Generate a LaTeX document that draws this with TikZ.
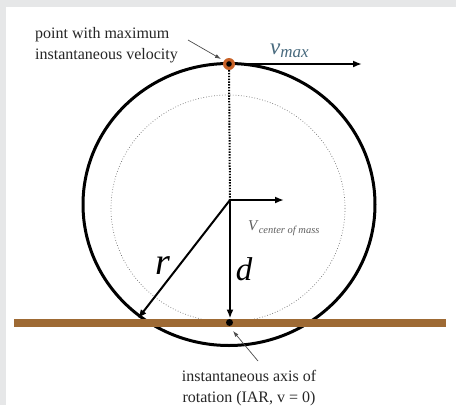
\documentclass[tikz,border=0pt]{standalone}
\usepackage{fontspec}
\setmainfont{Liberation Serif}
\usetikzlibrary{arrows.meta}
\usetikzlibrary{positioning}
\definecolor{groundbrown}{RGB}{158,106,52}
\definecolor{dotorange}{RGB}{200,98,40}
\definecolor{panelgray}{RGB}{230,231,232}
\definecolor{vmaxblue}{RGB}{72,106,126}
\definecolor{labelgray}{RGB}{95,95,95}

\begin{document}
\begin{tikzpicture}[
  x=1pt, y=-1pt,
  note/.style={
    inner sep=0pt,
    font=\fontsize{16}{21}\selectfont,
    text=black!85
  },
  vec/.style={-{Latex[length=9pt,width=7pt]}, line width=2pt},
  pointer/.style={-{Latex[length=6pt,width=4pt]}, line width=0.7pt, draw=black!70},
  wheel/.style={line width=3pt},
  trace/.style={dotted, draw=black!55, line width=0.7pt}
]
\fill[panelgray] (0,0) rectangle (456,405);
\fill[white] (6,7) rectangle (456,405);

\draw[wheel] (229,204.5) ellipse [x radius=146, y radius=141];
\draw[trace] (228,208.5) ellipse [x radius=117, y radius=113.5];
\fill[groundbrown] (14,319) rectangle (446,327);

\coordinate (cm) at (230,200);
\coordinate (vmaxend) at (362,64);
\coordinate (vcmend) at (284,200);
\coordinate (dend) at (230,318.5);
\coordinate (rend) at (138,318.5);

\node[circle, fill=dotorange, minimum size=12pt, inner sep=0pt] (top) at (229,64) {};
\fill[black] (top) circle (2.8);
\node[circle, fill=black, minimum size=7pt, inner sep=0pt] (iar) at (229.5,322.5) {};

\draw[line width=2pt, dash pattern=on 1.4pt off 1.4pt] (top.south) -- (cm);
\draw[vec] (top.east) -- (vmaxend);
\draw[vec] (cm) -- (vcmend);
\draw[vec] (cm) -- (dend);
\draw[vec] (cm) -- (rend);

\node[note, anchor=north west, align=left] (ptlabel) at (35,27) {
  point with maximum\\
  instantaneous velocity
};
\node[note, anchor=north, align=center] (iarlabel) at (249,370) {
  instantaneous axis of\\
  rotation (IAR, v = 0)
};

\coordinate (ptfrom) at (188,40);
\coordinate (ptto) at (221,59);
\coordinate (iarfrom) at (258,361);
\coordinate (iarto) at (233,331);
\draw[pointer] (ptfrom) -- (ptto);
\draw[pointer] (iarfrom) -- (iarto);

\node[anchor=base west, inner sep=0pt, text=vmaxblue] (vmax) at (270,54) {
  {\fontsize{23}{23}\selectfont\textit{v}}\raisebox{-3pt}{\fontsize{17}{17}\selectfont\textit{max}}
};
\node[anchor=base west, inner sep=0pt, text=labelgray] (vcm) at (248,230) {
  {\fontsize{15}{15}\selectfont\textit{V}}\raisebox{-3pt}{\fontsize{10.5}{10.5}\selectfont\textit{center of mass}}
};
\node[inner sep=0pt, font=\fontsize{38}{38}\selectfont\itshape] (rlabel) at (163,266) {r};
\node[inner sep=0pt, font=\fontsize{33}{33}\selectfont\itshape] (dlabel) at (244,269) {d};
\end{tikzpicture}
\end{document}
